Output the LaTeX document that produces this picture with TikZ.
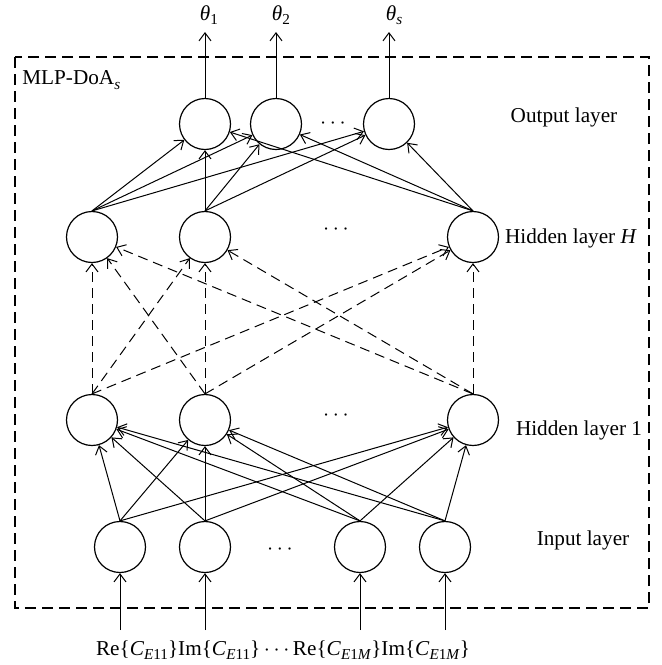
\documentclass[tikz,border=0pt]{standalone}
\usepackage{fontspec}
\setmainfont{Liberation Serif}
\usetikzlibrary{arrows.meta}
\newcommand\lsub[1]{\raisebox{-0.45ex}{\fontsize{7.6}{8}\selectfont #1}}
\begin{document}
\begin{tikzpicture}[x=0.5pt,y=-0.5pt,
  every node/.style={font=\fontsize{10.6}{12}\selectfont},
  neuron/.style={draw,circle,minimum size=25.5pt,inner sep=0pt,line width=0.6pt},
  conn/.style={line width=0.5pt,-{Straight Barb[length=4pt,width=6pt]}},
  dconn/.style={conn,dash pattern=on 5pt off 3pt},
  boxline/.style={line width=0.6pt,dash pattern=on 5.5pt off 3pt},
  lbl/.style={inner sep=0pt}]
\useasboundingbox (0,0) rectangle (661,665);
% frame
\draw[boxline] (15,57) rectangle (649,608);
\node[lbl,anchor=west] (mlp) at (22,80) {MLP-DoA\lsub{\textit{s}}};
% output layer
\node[neuron] (o1) at (205,124) {};
\node[neuron] (o2) at (276,124) {};
\node[neuron] (o3) at (389,124) {};
\node[lbl] (od) at (333,124) {$\cdots$};
\node[lbl] (ol) at (564,117) {Output layer};
% hidden layer H
\node[neuron] (hH1) at (92,237) {};
\node[neuron] (hH2) at (205,237) {};
\node[neuron] (hH3) at (473,237) {};
\node[lbl] (hHd) at (336,230) {$\cdots$};
\node[lbl] (hHl) at (571,238) {Hidden layer \textit{H}};
% hidden layer 1
\node[neuron] (hA1) at (92,420) {};
\node[neuron] (hA2) at (205,420) {};
\node[neuron] (hA3) at (473,420) {};
\node[lbl] (hAd) at (336,416) {$\cdots$};
\node[lbl] (hAl) at (579,430) {Hidden layer 1};
% input layer
\node[neuron] (i1) at (120,547) {};
\node[neuron] (i2) at (205,547) {};
\node[neuron] (i3) at (360,547) {};
\node[neuron] (i4) at (445,547) {};
\node[lbl] (id) at (280,550) {$\cdots$};
\node[lbl] (il) at (583,540) {Input layer};
% outputs
\node[lbl] (t1) at (209,15) {\textit{θ}\lsub{1}};
\node[lbl] (t2) at (281,15) {\textit{θ}\lsub{2}};
\node[lbl] (t3) at (394,15) {\textit{θ}\lsub{\textit{s}}};
\coordinate (a1) at (205,32);
\coordinate (a2) at (276,32);
\coordinate (a3) at (389,32);
\draw[conn] (o1) -- (a1);
\draw[conn] (o2) -- (a2);
\draw[conn] (o3) -- (a3);
% inputs
\node[lbl] (in) at (283,650) {Re\{\textit{C}\lsub{\textit{E}11}\}Im\{\textit{C}\lsub{\textit{E}11}\}\,$\cdots$\,Re\{\textit{C}\lsub{\textit{E}1\textit{M}}\}Im\{\textit{C}\lsub{\textit{E}1\textit{M}}\}};
\coordinate (b1) at (120,630);
\coordinate (b2) at (205,630);
\coordinate (b3) at (360,630);
\coordinate (b4) at (445,630);
\draw[conn] (b1) -- (i1);
\draw[conn] (b2) -- (i2);
\draw[conn] (b3) -- (i3);
\draw[conn] (b4) -- (i4);
% input -> hidden 1
\foreach \i in {1,2,3,4}{
  \foreach \j in {1,2,3}{
    \draw[conn] (i\i.north) -- (hA\j);
  }
}
% hidden 1 -> hidden H
\foreach \i in {1,2,3}{
  \foreach \j in {1,2,3}{
    \draw[dconn] (hA\i.north) -- (hH\j);
  }
}
% hidden H -> output
\foreach \i in {1,2,3}{
  \foreach \j in {1,2,3}{
    \draw[conn] (hH\i.north) -- (o\j);
  }
}
\end{tikzpicture}
\end{document}
